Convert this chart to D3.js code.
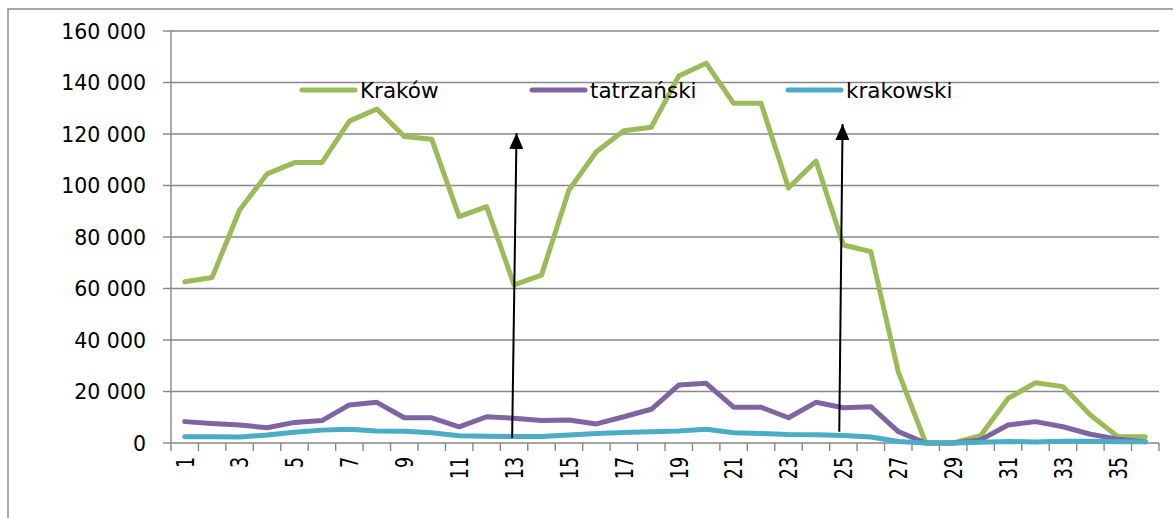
<!DOCTYPE html>
<html>
<head>
  <meta charset="utf-8">
  <title>Kraków / tatrzański / krakowski</title>
  <script src="https://d3js.org/d3.v7.min.js"></script>
  <style>
    body { margin: 0; background: #fff; }
    text { font-family: "DejaVu Sans", sans-serif; fill: #000; }
  </style>
</head>
<body>
<div class="chart"></div>

<script>
    // data
    const weeks = [1,2,3,4,5,6,7,8,9,10,11,12,13,14,15,16,17,18,
                   19,20,21,22,23,24,25,26,27,28,29,30,31,32,33,34,35,36];

    const krakow = [62600, 64300, 90500, 104500, 108900, 108900, 125000, 129700, 119000, 118000,
                    87900, 91800, 61400, 65200, 98250, 113100, 121300, 122600, 142500, 147500,
                    131900, 131900, 99000, 109500, 76900, 74300, 27600, 0, 0, 2800,
                    17300, 23400, 21900, 10900, 2450, 2450];

    const tatrzanski = [8300, 7600, 7000, 5950, 8000, 8700, 14800, 15800, 9800, 9800,
                        6300, 10200, 9600, 8700, 8900, 7400, 10200, 13100, 22500, 23200,
                        13900, 13900, 9800, 15800, 13700, 14100, 4400, 0, 0, 1200,
                        7000, 8300, 6300, 3400, 1500, 500];

    const krakowski = [2450, 2400, 2300, 3100, 4150, 5000, 5300, 4650, 4600, 4000,
                       2850, 2600, 2500, 2500, 3100, 3700, 4100, 4400, 4650, 5300,
                       4000, 3700, 3300, 3200, 2900, 2300, 600, 0, 0, 300,
                       600, 400, 700, 700, 500, 500];

    const seriesNames = ["Kraków", "tatrzański", "krakowski"];
    const yTicks = [0, 20000, 40000, 60000, 80000, 100000, 120000, 140000, 160000];
    const xTickLabels = weeks.filter(w => w % 2 === 1);

    // arrows drawn on the chart (week position, value) start -> tip
    const arrows = [
        {w0: 12.93, v0: 1900, w1: 13.09, v1: 120400},
        {w0: 24.85, v0: 4400, w1: 24.97, v1: 123900}
    ];

    const colors = ["#9bbb59", "#8064a2", "#4bacc6"];
    const gridColor = "#878787";

    const W = 1173, H = 518;
    const margin = {top: 31, left: 171, right: 14, bottom: 75};

    const svg = d3.select(".chart").append("svg")
        .attr("width", W)
        .attr("height", H);

    svg.append("rect").attr("width", W).attr("height", H).attr("fill", "#fff");

    // outer chart frame
    svg.append("rect")
        .attr("x", 8).attr("y", 9)
        .attr("width", W + 20).attr("height", H + 20)
        .attr("fill", "none")
        .attr("stroke", "#8c8c8c")
        .attr("stroke-width", 1.5);

    const x = d3.scaleBand()
        .domain(weeks)
        .range([margin.left, W - margin.right])
        .padding(0);

    const xLin = d3.scaleLinear()
        .domain([0.5, weeks.length + 0.5])
        .range([margin.left, W - margin.right]);

    const y = d3.scaleLinear()
        .domain([0, 160000])
        .range([H - margin.bottom, margin.top]);

    const fmt = v => d3.format(",")(v).replace(/,/g, " ");

    // gridlines
    svg.append("g")
        .selectAll("line")
        .data(yTicks.slice(1))
        .join("line")
        .attr("x1", margin.left).attr("x2", W - margin.right)
        .attr("y1", d => y(d)).attr("y2", d => y(d))
        .attr("stroke", gridColor)
        .attr("stroke-width", 1.4);

    // y axis
    const yAxis = svg.append("g").attr("transform", `translate(${margin.left},0)`);
    yAxis.append("line")
        .attr("y1", y(0)).attr("y2", y(160000))
        .attr("stroke", gridColor).attr("stroke-width", 1.4);
    yAxis.selectAll(".tick")
        .data(yTicks)
        .join("line")
        .attr("x1", -8).attr("x2", 0)
        .attr("y1", d => y(d)).attr("y2", d => y(d))
        .attr("stroke", gridColor).attr("stroke-width", 1.4);
    yAxis.selectAll("text")
        .data(yTicks)
        .join("text")
        .attr("x", -25)
        .attr("y", d => y(d) + 7.5)
        .attr("text-anchor", "end")
        .style("font-size", "20.5px")
        .text(d => fmt(d));

    // x axis
    const xAxis = svg.append("g");
    xAxis.append("line")
        .attr("x1", margin.left).attr("x2", W - margin.right)
        .attr("y1", y(0)).attr("y2", y(0))
        .attr("stroke", gridColor).attr("stroke-width", 1.4);
    const bounds = weeks.map(w => x(w)).concat([x(weeks[weeks.length - 1]) + x.bandwidth()]);
    xAxis.selectAll(".xt")
        .data(bounds)
        .join("line")
        .attr("x1", d => d).attr("x2", d => d)
        .attr("y1", y(0)).attr("y2", y(0) + 8)
        .attr("stroke", gridColor).attr("stroke-width", 1.4);
    xAxis.selectAll("g.lbl")
        .data(xTickLabels)
        .join("g")
        .attr("class", "lbl")
        .attr("transform", d => `translate(${x(d) + x.bandwidth() / 2},${y(0) + 14}) rotate(-90) scale(1,1.4)`)
        .append("text")
        .attr("text-anchor", "end")
        .attr("dy", "0.36em")
        .style("font-size", "17.5px")
        .text(d => d);

    // lines
    const allSeries = [krakow, tatrzanski, krakowski];
    const line = d3.line()
        .x((d, i) => x(weeks[i]) + x.bandwidth() / 2)
        .y(d => y(d));

    svg.append("g")
        .selectAll("path")
        .data(allSeries)
        .join("path")
        .attr("d", d => line(d))
        .attr("fill", "none")
        .attr("stroke", (d, i) => colors[i])
        .attr("stroke-width", 5)
        .attr("stroke-linejoin", "round")
        .attr("stroke-linecap", "round");

    // arrows
    svg.append("defs").append("marker")
        .attr("id", "head")
        .attr("markerUnits", "userSpaceOnUse")
        .attr("viewBox", "0 0 16 14")
        .attr("refX", 16).attr("refY", 7)
        .attr("markerWidth", 16).attr("markerHeight", 14)
        .attr("orient", "auto")
        .append("path")
        .attr("d", "M0,0 L16,7 L0,14 Z")
        .attr("fill", "#000");

    svg.append("g")
        .selectAll("line")
        .data(arrows)
        .join("line")
        .attr("x1", d => xLin(d.w0)).attr("y1", d => y(d.v0))
        .attr("x2", d => xLin(d.w1)).attr("y2", d => y(d.v1))
        .attr("stroke", "#000")
        .attr("stroke-width", 2)
        .attr("marker-end", "url(#head)");

    // legend
    const legendX = [302, 532, 788];
    const legend = svg.append("g")
        .selectAll("g")
        .data(seriesNames)
        .join("g")
        .attr("transform", (d, i) => `translate(${legendX[i]},90)`);
    legend.append("line")
        .attr("x1", 0).attr("x2", 53)
        .attr("stroke", (d, i) => colors[i])
        .attr("stroke-width", 5)
        .attr("stroke-linecap", "round");
    legend.append("text")
        .attr("x", 58).attr("y", 7.5)
        .style("font-size", "21.5px")
        .text(d => d);
</script>
</body>
</html>
